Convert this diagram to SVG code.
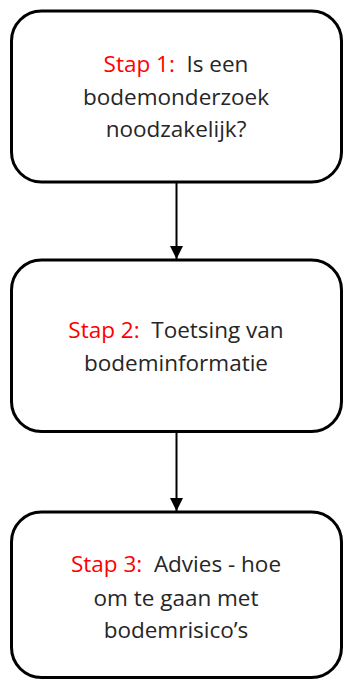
<svg xmlns="http://www.w3.org/2000/svg" width="343" height="680" viewBox="0 0 343 680">
  <style>
    .box { fill: #ffffff; stroke: #000000; stroke-width: 3; }
    .lbl { font-family: "Open Sans", "Liberation Sans", sans-serif; font-size: 22.5px; fill: #262626; text-anchor: middle; white-space: pre; }
    .red { fill: #ff0000; }
    .conn { stroke: #000000; stroke-width: 2; fill: none; }
  </style>
  <defs>
    <marker id="arrow" markerWidth="13" markerHeight="13" refX="13" refY="6.5" orient="auto" markerUnits="userSpaceOnUse">
      <path d="M0,0 L13,6.5 L0,13 Z" fill="#000000"/>
    </marker>
  </defs>
  <rect width="343" height="680" fill="#ffffff"/>
  <g id="connectors">
    <line class="conn" x1="176.5" y1="183" x2="176.5" y2="259" marker-end="url(#arrow)"/>
    <line class="conn" x1="176.5" y1="433" x2="176.5" y2="511" marker-end="url(#arrow)"/>
  </g>
  <g id="stap1">
    <rect class="box" x="11.5" y="11" width="330" height="171" rx="30" ry="30"/>
    <text class="lbl" x="176" y="72"><tspan class="red">Stap 1:</tspan>  Is een</text>
    <text class="lbl" x="176" y="105">bodemonderzoek</text>
    <text class="lbl" x="176" y="137">noodzakelijk?</text>
  </g>
  <g id="stap2">
    <rect class="box" x="11.5" y="260" width="330" height="171.5" rx="30" ry="30"/>
    <text class="lbl" x="176" y="338"><tspan class="red">Stap 2:</tspan>  Toetsing van</text>
    <text class="lbl" x="176" y="371">bodeminformatie</text>
  </g>
  <g id="stap3">
    <rect class="box" x="11.5" y="512" width="330" height="165.5" rx="30" ry="30"/>
    <text class="lbl" x="176" y="572"><tspan class="red">Stap 3:</tspan>  Advies - hoe</text>
    <text class="lbl" x="176" y="606">om te gaan met</text>
    <text class="lbl" x="176" y="638">bodemrisico’s</text>
  </g>
</svg>
